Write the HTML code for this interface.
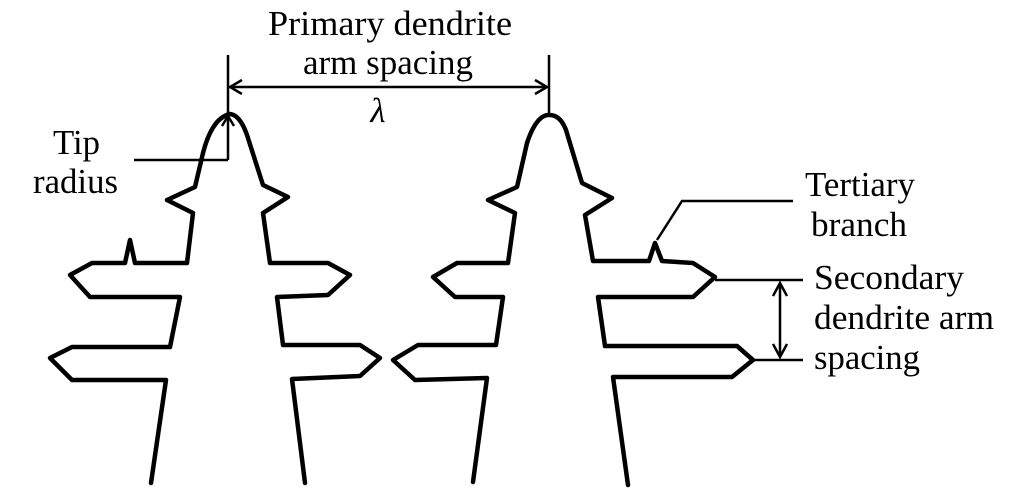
<!DOCTYPE html>
<html><head><meta charset="utf-8"><style>
html,body{margin:0;padding:0;background:#fff;}
svg{display:block;}
text{font-family:"Liberation Serif","Times New Roman",serif;font-size:35px;fill:#000;}
</style></head><body>
<svg width="1014" height="504" viewBox="0 0 1014 504" xmlns="http://www.w3.org/2000/svg">
<g fill="none" stroke="#000" stroke-width="4.5" stroke-linejoin="round" stroke-linecap="round">
<path d="M151,483 L166,380 L72,380 L50,358 L72,347 L170,347 L180,297 L90,297 L70,275 L92,263 L125,263 L130,240 L135,263 L187,263 L193,213 L167,200 L195,187 L203,153 Q212,118 230,114 Q240,115 247,135 L263,185 L288,197 L263,213 L270,263 L328,263 L350,275 L328,295 L277,297 L283,345 L360,345 L380,358 L360,376 L292,379 L305,483"/>
<path d="M473,482 L487,378 L415,380 L393,360 L418,345 L496,345 L503,297 L455,297 L433,277 L457,263 L508,263 L515,213 L488,200 L517,187 L527,143 Q536,116 548,115 Q560,114 566,130 L582,183 L612,198 L585,215 L593,261 L649,261 L655,243 L662,261 L693,263 L715,277 L693,297 L598,297 L605,346 L737,346 L753,360 L732,377 L613,377 L628,485"/>
</g>
<g fill="none" stroke="#000" stroke-width="2.5">
<line x1="228" y1="55" x2="228" y2="160"/>
<line x1="549" y1="55" x2="549" y2="115"/>
<line x1="230" y1="87" x2="547" y2="87"/>
<polyline points="242,80 230,87 242,94"/>
<polyline points="535,80 547,87 535,94"/>
<line x1="134" y1="160" x2="228" y2="160"/>
<polyline points="222,126 228,116 234,126"/>
<polyline points="657,240 682,201 793,201"/>
<line x1="715" y1="280" x2="803" y2="280"/>
<line x1="753" y1="360" x2="803" y2="360"/>
<line x1="780" y1="283" x2="780" y2="357"/>
<polyline points="773,296 780,283 787,296"/>
<polyline points="773,344 780,357 787,344"/>
</g>
<text x="268" y="35" textLength="244" lengthAdjust="spacingAndGlyphs">Primary dendrite</text>
<text x="303" y="74" textLength="170" lengthAdjust="spacingAndGlyphs">arm spacing</text>
<text x="378" y="122" text-anchor="middle" font-style="italic">λ</text>
<text x="53" y="154" textLength="47" lengthAdjust="spacingAndGlyphs">Tip</text>
<text x="33" y="193" textLength="85" lengthAdjust="spacingAndGlyphs">radius</text>
<text x="805" y="196" textLength="110" lengthAdjust="spacingAndGlyphs">Tertiary</text>
<text x="811" y="236" textLength="96" lengthAdjust="spacingAndGlyphs">branch</text>
<text x="814" y="289" textLength="150" lengthAdjust="spacingAndGlyphs">Secondary</text>
<text x="814" y="329" textLength="180" lengthAdjust="spacingAndGlyphs">dendrite arm</text>
<text x="814" y="369" textLength="106" lengthAdjust="spacingAndGlyphs">spacing</text>
</svg>
</body></html>
